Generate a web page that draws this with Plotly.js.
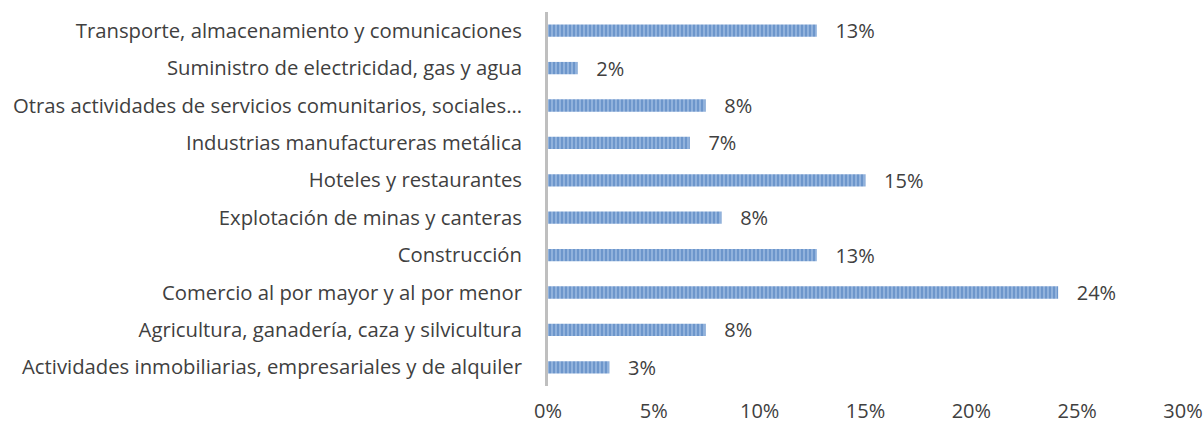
<!DOCTYPE html>
<html><head><meta charset="utf-8">
<script src="https://cdn.plot.ly/plotly-3.0.1.min.js"></script>
<style>html,body{margin:0;padding:0;background:#fff}#chart{width:1204px;height:423px}</style>
</head><body><div id="chart"></div>
<script>
const categories = [
  "Actividades inmobiliarias, empresariales y de alquiler",
  "Agricultura, ganadería, caza y silvicultura",
  "Comercio al por mayor y al por menor",
  "Construcción",
  "Explotación de minas y canteras",
  "Hoteles y restaurantes",
  "Industrias manufactureras metálica",
  "Otras actividades de servicios comunitarios, sociales…",
  "Suministro de electricidad, gas y agua",
  "Transporte, almacenamiento y comunicaciones"
];
const values = [0.029, 0.0745, 0.241, 0.127, 0.082, 0.150, 0.067, 0.0745, 0.014, 0.127];
const valueLabels = ["3%", "8%", "24%", "13%", "8%", "15%", "7%", "8%", "2%", "13%"];
const xTickVals = [0, 0.05, 0.10, 0.15, 0.20, 0.25, 0.30];
const xTickText = ["0%", "5%", "10%", "15%", "20%", "25%", "30%"];

const FONT = '"Open Sans", sans-serif';
const trace = {
  type: 'bar', orientation: 'h',
  y: categories, x: values,
  text: valueLabels.map(t => '   ' + t),
  textposition: 'outside',
  constraintext: 'none',
  textfont: {family: FONT, size: 20, color: '#404040'},
  cliponaxis: false,
  marker: {
    color: '#8fb1dc',
    pattern: {shape: '|', fgcolor: '#4677b8', bgcolor: '#95b5de', size: 4, solidity: 0.55, fillmode: 'overlay'},
    line: {width: 0}
  },
  hoverinfo: 'none'
};
const layout = {
  width: 1204, height: 423,
  margin: {l: 548, r: 21, t: 12, b: 37},
  paper_bgcolor: '#fff', plot_bgcolor: '#fff',
  bargap: 0.67,
  showlegend: false,
  font: {family: FONT, size: 20, color: '#404040'},
  xaxis: {range: [0, 0.30], tickvals: xTickVals, ticktext: xTickText, showgrid: false, zeroline: false,
          showline: false, ticks: '', ticklabelstandoff: 11, tickfont: {size: 20, color: '#404040'}},
  yaxis: {type: 'category', showgrid: false, zeroline: false, showline: true, linecolor: '#bfbfbf', linewidth: 3,
          ticks: '', ticklabelstandoff: 19, tickfont: {size: 20.3, color: '#404040'}, automargin: false}
};
Plotly.newPlot('chart', [trace], layout, {staticPlot: true});
</script></body></html>
